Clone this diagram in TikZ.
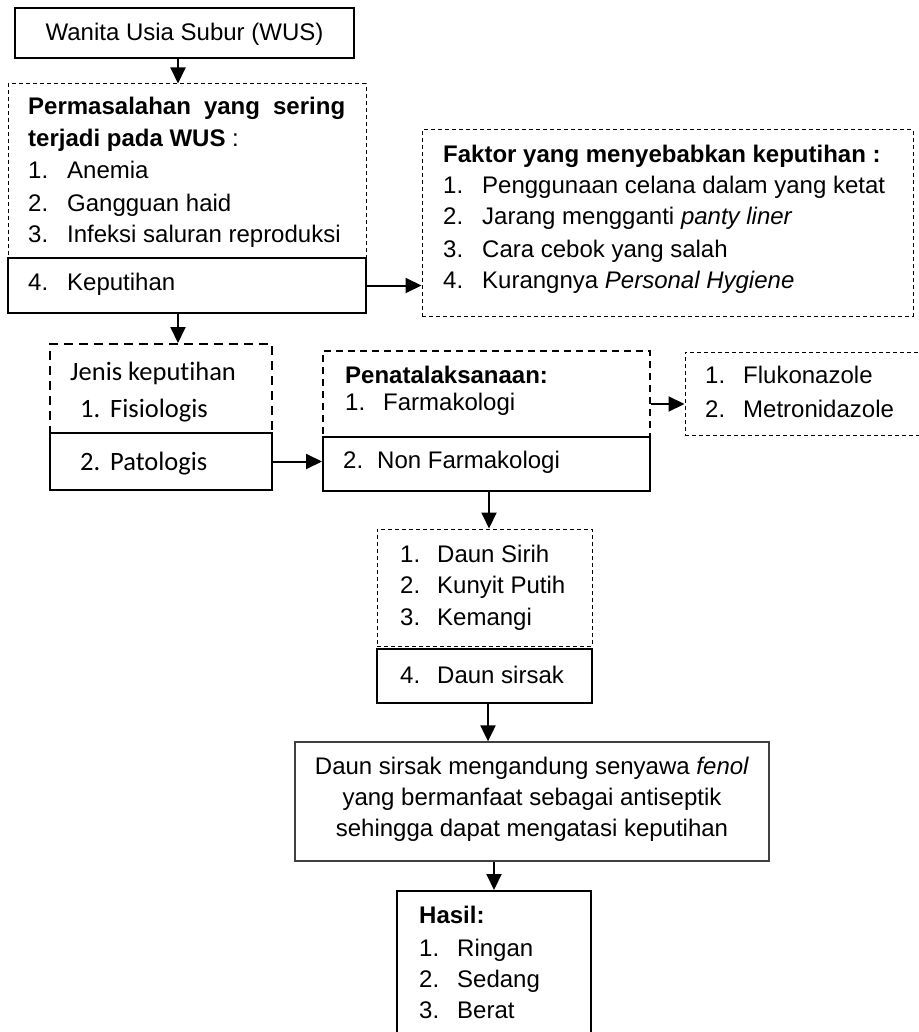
\documentclass[tikz,border=0pt]{standalone}
\usepackage{fontspec}
\setmainfont{Liberation Sans}
\newfontfamily\calfont[Ligatures=NoCommon]{Carlito}
\usetikzlibrary{arrows.meta,fit}
\begin{document}
\begin{tikzpicture}[x=1pt,y=-1pt,
  txt/.style={anchor=base west, inner sep=0pt, font=\fontsize{24}{29}\selectfont},
  ctxt/.style={anchor=base, inner sep=0pt, font=\fontsize{24}{29}\selectfont},
  cal/.style={anchor=base west, inner sep=0pt, font=\calfont\fontsize{26.5}{32}\selectfont},
  solidbox/.style={draw, line width=1.3pt, inner sep=0pt},
  thickbox/.style={draw, line width=2pt, inner sep=0pt},
  graybox/.style={draw=black!75, line width=1.3pt, inner sep=0pt},
  thindash/.style={draw, line width=1pt, dash pattern=on 4pt off 3pt, inner sep=0pt},
  middash/.style={draw, line width=1.5pt, dash pattern=on 7pt off 5pt, inner sep=0pt},
  thickdash/.style={draw, line width=2pt, dash pattern=on 9pt off 6pt, inner sep=0pt},
  arr/.style={-{Triangle[length=16pt,width=15pt]}, line width=2pt}
]
\useasboundingbox (0,0) rectangle (918,1032);

% boxes
\node[solidbox, fit={(15,8)(354,58)}] (wus) {};
\node[thindash, fit={(8,84)(366,258)}] (perm) {};
\node[solidbox, fit={(8,258)(366,313)}] (kep) {};
\node[thindash, fit={(422,130)(913,316)}] (faktor) {};
\node[thickdash, fit={(50,344)(272,433)}] (jenis) {};
\node[thickbox, fit={(50,433)(272,490)}] (pat) {};
\node[middash, fit={(323,351)(650,437)}] (penata) {};
\node[thickbox, fit={(323,437)(650,491)}] (nonf) {};
\node[thindash, fit={(685,352)(935,435)}] (fluko) {};
\node[thindash, fit={(377,529)(592,646)}] (sirih) {};
\node[solidbox, fit={(377,649)(592,703)}] (sirsak) {};
\node[graybox, fit={(295,742)(769,861)}] (fenol) {};
\node[thickbox, fit={(397,891)(591,1045)}] (hasil) {};

% texts
\node[ctxt] (twus) at (184.5,41) {Wanita Usia Subur (WUS)};

\node[txt] (tp1) at (28,115) {\makebox[317pt][s]{\bfseries Permasalahan yang sering}};
\node[txt] (tp2) at (28,147) {\textbf{terjadi pada WUS} :};
\node[txt] (tp3n) at (28,179) {1.};
\node[txt] (tp3) at (67,179) {Anemia};
\node[txt] (tp4n) at (28,212) {2.};
\node[txt] (tp4) at (67,212) {Gangguan haid};
\node[txt] (tp5n) at (28,243) {3.};
\node[txt] (tp5) at (67,243) {Infeksi saluran reproduksi};
\node[txt] (tp6n) at (28,290) {4.};
\node[txt] (tp6) at (67,290) {Keputihan};

\node[txt] (tf0) at (443,163) {\textbf{Faktor yang menyebabkan keputihan :}};
\node[txt] (tf1n) at (443,194) {1.};
\node[txt] (tf1) at (482,194) {Penggunaan celana dalam yang ketat};
\node[txt] (tf2n) at (443,225) {2.};
\node[txt] (tf2) at (482,225) {Jarang mengganti \textit{panty liner}};
\node[txt] (tf3n) at (443,257) {3.};
\node[txt] (tf3) at (482,257) {Cara cebok yang salah};
\node[txt] (tf4n) at (443,288) {4.};
\node[txt] (tf4) at (482,288) {Kurangnya \textit{Personal Hygiene}};

\node[cal] (tj0) at (70,380) {Jenis keputihan};
\node[cal] (tj1n) at (80,417) {1.};
\node[cal] (tj1) at (110,417) {Fisiologis};
\node[cal] (tj2n) at (80,470) {2.};
\node[cal] (tj2) at (110,470) {Patologis};

\node[txt] (tn0) at (345,383) {\textbf{Penatalaksanaan:}};
\node[txt] (tn1n) at (345,410) {1.};
\node[txt] (tn1) at (383,410) {Farmakologi};
\node[txt] (tn2n) at (343,468) {2.};
\node[txt] (tn2) at (377,468) {Non Farmakologi};

\node[txt] (tk1n) at (705,383) {1.};
\node[txt] (tk1) at (743,383) {Flukonazole};
\node[txt] (tk2n) at (705,417) {2.};
\node[txt] (tk2) at (743,417) {Metronidazole};

\node[txt] (ts1n) at (400,562) {1.};
\node[txt] (ts1) at (437,562) {Daun Sirih};
\node[txt] (ts2n) at (400,593) {2.};
\node[txt] (ts2) at (437,593) {Kunyit Putih};
\node[txt] (ts3n) at (400,625) {3.};
\node[txt] (ts3) at (437,625) {Kemangi};
\node[txt] (ts4n) at (400,683) {4.};
\node[txt] (ts4) at (437,683) {Daun sirsak};

\node[ctxt] (te1) at (532,774) {Daun sirsak mengandung senyawa \textit{fenol}};
\node[ctxt] (te2) at (532,805) {yang bermanfaat sebagai antiseptik};
\node[ctxt] (te3) at (532,836) {sehingga dapat mengatasi keputihan};

\node[txt] (th0) at (419,923) {\textbf{Hasil:}};
\node[txt] (th1n) at (419,956) {1.};
\node[txt] (th1) at (457,956) {Ringan};
\node[txt] (th2n) at (419,987) {2.};
\node[txt] (th2) at (457,987) {Sedang};
\node[txt] (th3n) at (419,1018) {3.};
\node[txt] (th3) at (457,1018) {Berat};

% connector guides
\coordinate (c1) at (178,0);
\coordinate (c2) at (0,404);
\coordinate (c3) at (489,0);
\coordinate (c4) at (488,0);
\coordinate (c5) at (494,0);

\draw[arr] (c1 |- wus.south) -- (c1 |- perm.north);
\draw[arr] (kep.east) -- (kep.east -| faktor.west);
\draw[arr] (c1 |- kep.south) -- (c1 |- jenis.north);
\draw[arr] (pat.east) -- (pat.east -| nonf.west);
\draw[arr] (c2 -| penata.east) -- (c2 -| fluko.west);
\draw[arr] (c3 |- nonf.south) -- (c3 |- sirih.north);
\draw[arr] (c4 |- sirsak.south) -- (c4 |- fenol.north);
\draw[arr] (c5 |- fenol.south) -- (c5 |- hasil.north);
\end{tikzpicture}
\end{document}
